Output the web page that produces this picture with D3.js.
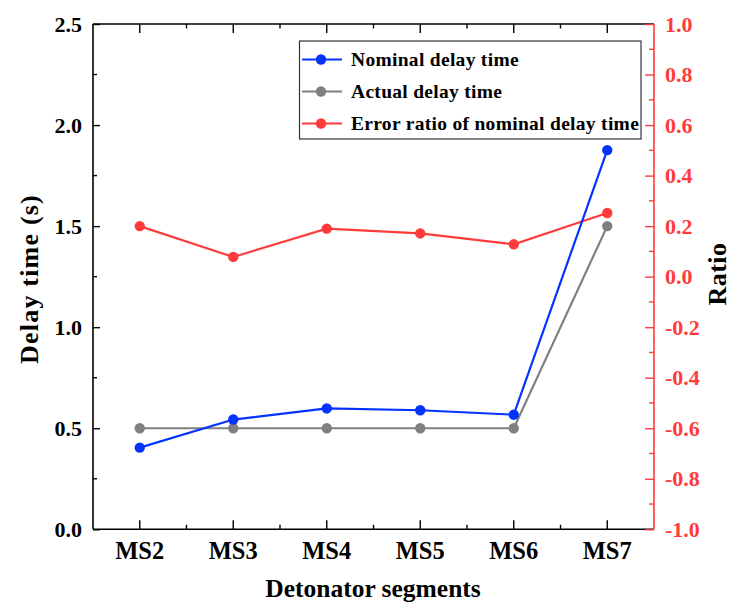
<!DOCTYPE html>
<html>
<head>
<meta charset="utf-8">
<script src="https://cdn.jsdelivr.net/npm/d3@7/dist/d3.min.js"></script>
<style>
  html, body { margin: 0; padding: 0; background: #fff; }
  svg { display: block; }
  text { font-family: "Liberation Serif", "Times New Roman", serif; font-weight: bold; }
</style>
</head>
<body>
<svg id="chart" width="734" height="608"></svg>
<script>
// Detonator segments and measured delay times
const segments = ["MS2", "MS3", "MS4", "MS5", "MS6", "MS7"];
const nominalDelay = [0.404, 0.543, 0.598, 0.589, 0.567, 1.876];
const actualDelay = [0.5, 0.5, 0.5, 0.5, 0.5, 1.5];
const errorRatio = [0.2, 0.078, 0.19, 0.171, 0.128, 0.252];

const leftTicks = [0.0, 0.5, 1.0, 1.5, 2.0, 2.5];
const rightTicks = [-1.0, -0.8, -0.6, -0.4, -0.2, 0.0, 0.2, 0.4, 0.6, 0.8, 1.0];

const seriesNames = ["Nominal delay time", "Actual delay time", "Error ratio of nominal delay time"];
const seriesColors = ["#0433ff", "#808080", "#ff3b3b"];

const svg = d3.select("#chart");
const plot = { left: 93, right: 654, top: 24, bottom: 529.3 };
const fmt = d => d.toFixed(1);

const x = d3.scalePoint().domain(segments).range([plot.left, plot.right]).padding(0.5);
const yL = d3.scaleLinear().domain([0, 2.5]).range([plot.bottom, plot.top]);
const yR = d3.scaleLinear().domain([-1, 1]).range([plot.bottom, plot.top]);

const step = x.step();
const minorX = segments.slice(0, -1).map(s => x(s) + step / 2);

// Bottom axis (ticks inward)
const gB = svg.append("g");
gB.append("line").attr("x1", plot.left).attr("x2", plot.right)
  .attr("y1", plot.bottom).attr("y2", plot.bottom).attr("stroke", "#000").attr("stroke-width", 1.6);
segments.forEach(s => {
  gB.append("line").attr("x1", x(s)).attr("x2", x(s)).attr("y1", plot.bottom).attr("y2", plot.bottom - 9)
    .attr("stroke", "#000").attr("stroke-width", 1.4);
  gB.append("text").attr("x", x(s)).attr("y", 559).attr("text-anchor", "middle")
    .attr("font-size", 24.5).attr("fill", "#000").text(s);
});
minorX.forEach(v => {
  gB.append("line").attr("x1", v).attr("x2", v).attr("y1", plot.bottom).attr("y2", plot.bottom - 4.5)
    .attr("stroke", "#000").attr("stroke-width", 1.4);
});

// Top axis (mirror, ticks inward)
const gT = svg.append("g");
gT.append("line").attr("x1", plot.left).attr("x2", plot.right)
  .attr("y1", plot.top).attr("y2", plot.top).attr("stroke", "#000").attr("stroke-width", 1.6);
segments.forEach(s => {
  gT.append("line").attr("x1", x(s)).attr("x2", x(s)).attr("y1", plot.top).attr("y2", plot.top + 9)
    .attr("stroke", "#000").attr("stroke-width", 1.4);
});
minorX.forEach(v => {
  gT.append("line").attr("x1", v).attr("x2", v).attr("y1", plot.top).attr("y2", plot.top + 4.5)
    .attr("stroke", "#000").attr("stroke-width", 1.4);
});

// Left axis
const gL = svg.append("g").attr("transform", `translate(${plot.left},0)`);
gL.call(d3.axisLeft(yL).tickValues(leftTicks).tickFormat(fmt).tickSize(-7).tickPadding(11));
gL.select(".domain").attr("stroke-width", 1.6).attr("d", `M0,${plot.top}V${plot.bottom}`);
gL.selectAll(".tick line").attr("stroke-width", 1.4);
gL.selectAll(".tick text").attr("font-size", 22).attr("fill", "#000")
  .attr("font-family", "Liberation Serif, serif").attr("font-weight", "bold");
d3.range(0.25, 2.5, 0.5).forEach(v => {
  gL.append("line").attr("x1", 0).attr("x2", 4).attr("y1", yL(v)).attr("y2", yL(v))
    .attr("stroke", "#000").attr("stroke-width", 1.4);
});

// Right axis (red)
const red = seriesColors[2];
const gR = svg.append("g").attr("transform", `translate(${plot.right},0)`);
gR.call(d3.axisRight(yR).tickValues(rightTicks).tickFormat(fmt).tickSize(-9).tickPadding(11));
gR.select(".domain").attr("stroke", red).attr("stroke-width", 1.6).attr("d", `M0,${plot.top}V${plot.bottom}`);
gR.selectAll(".tick line").attr("stroke", red).attr("stroke-width", 1.4);
gR.selectAll(".tick text").attr("font-size", 22).attr("fill", red)
  .attr("font-family", "Liberation Serif, serif").attr("font-weight", "bold");
d3.range(-0.9, 1.0, 0.2).forEach(v => {
  gR.append("line").attr("x1", 0).attr("x2", -5).attr("y1", yR(v)).attr("y2", yR(v))
    .attr("stroke", red).attr("stroke-width", 1.4);
});

// Axis titles
svg.append("text").attr("x", 373).attr("y", 597).attr("text-anchor", "middle")
  .attr("font-size", 25.5).attr("fill", "#000").text("Detonator segments");
svg.append("text").attr("transform", "translate(38,279) rotate(-90)")
  .attr("text-anchor", "middle").attr("font-size", 26).attr("letter-spacing", 1.2).attr("fill", "#000").text("Delay time (s)");
svg.append("text").attr("transform", "translate(726,274) rotate(-90)")
  .attr("text-anchor", "middle").attr("font-size", 26).attr("letter-spacing", 0.5).attr("fill", "#000").text("Ratio");

// Series lines and markers
const series = [
  { values: nominalDelay, y: yL, color: seriesColors[0] },
  { values: actualDelay, y: yL, color: seriesColors[1] },
  { values: errorRatio, y: yR, color: seriesColors[2] }
];
const drawOrder = [2, 1, 0];
drawOrder.forEach(i => {
  const s = series[i];
  const line = d3.line().x((d, j) => x(segments[j])).y(d => s.y(d));
  svg.append("path").datum(s.values).attr("d", line).attr("fill", "none")
    .attr("stroke", s.color).attr("stroke-width", 2.2);
  svg.append("g").selectAll("circle").data(s.values).join("circle")
    .attr("cx", (d, j) => x(segments[j])).attr("cy", d => s.y(d)).attr("r", 5.2).attr("fill", s.color);
});

// Legend
const lg = svg.append("g");
lg.append("rect").attr("x", 299.5).attr("y", 41).attr("width", 341.5).attr("height", 98)
  .attr("fill", "#fff").attr("stroke", "#333").attr("stroke-width", 1.2);
const rowY = [59.5, 91.5, 123.5];
seriesNames.forEach((name, i) => {
  lg.append("line").attr("x1", 302).attr("x2", 342).attr("y1", rowY[i]).attr("y2", rowY[i])
    .attr("stroke", seriesColors[i]).attr("stroke-width", 2.2);
  lg.append("circle").attr("cx", 321).attr("cy", rowY[i]).attr("r", 5.2).attr("fill", seriesColors[i]);
  lg.append("text").attr("x", 351).attr("y", rowY[i] + 6.5).attr("font-size", 19.5)
    .attr("letter-spacing", 0.3).attr("fill", "#000").text(name);
});
</script>
</body>
</html>
